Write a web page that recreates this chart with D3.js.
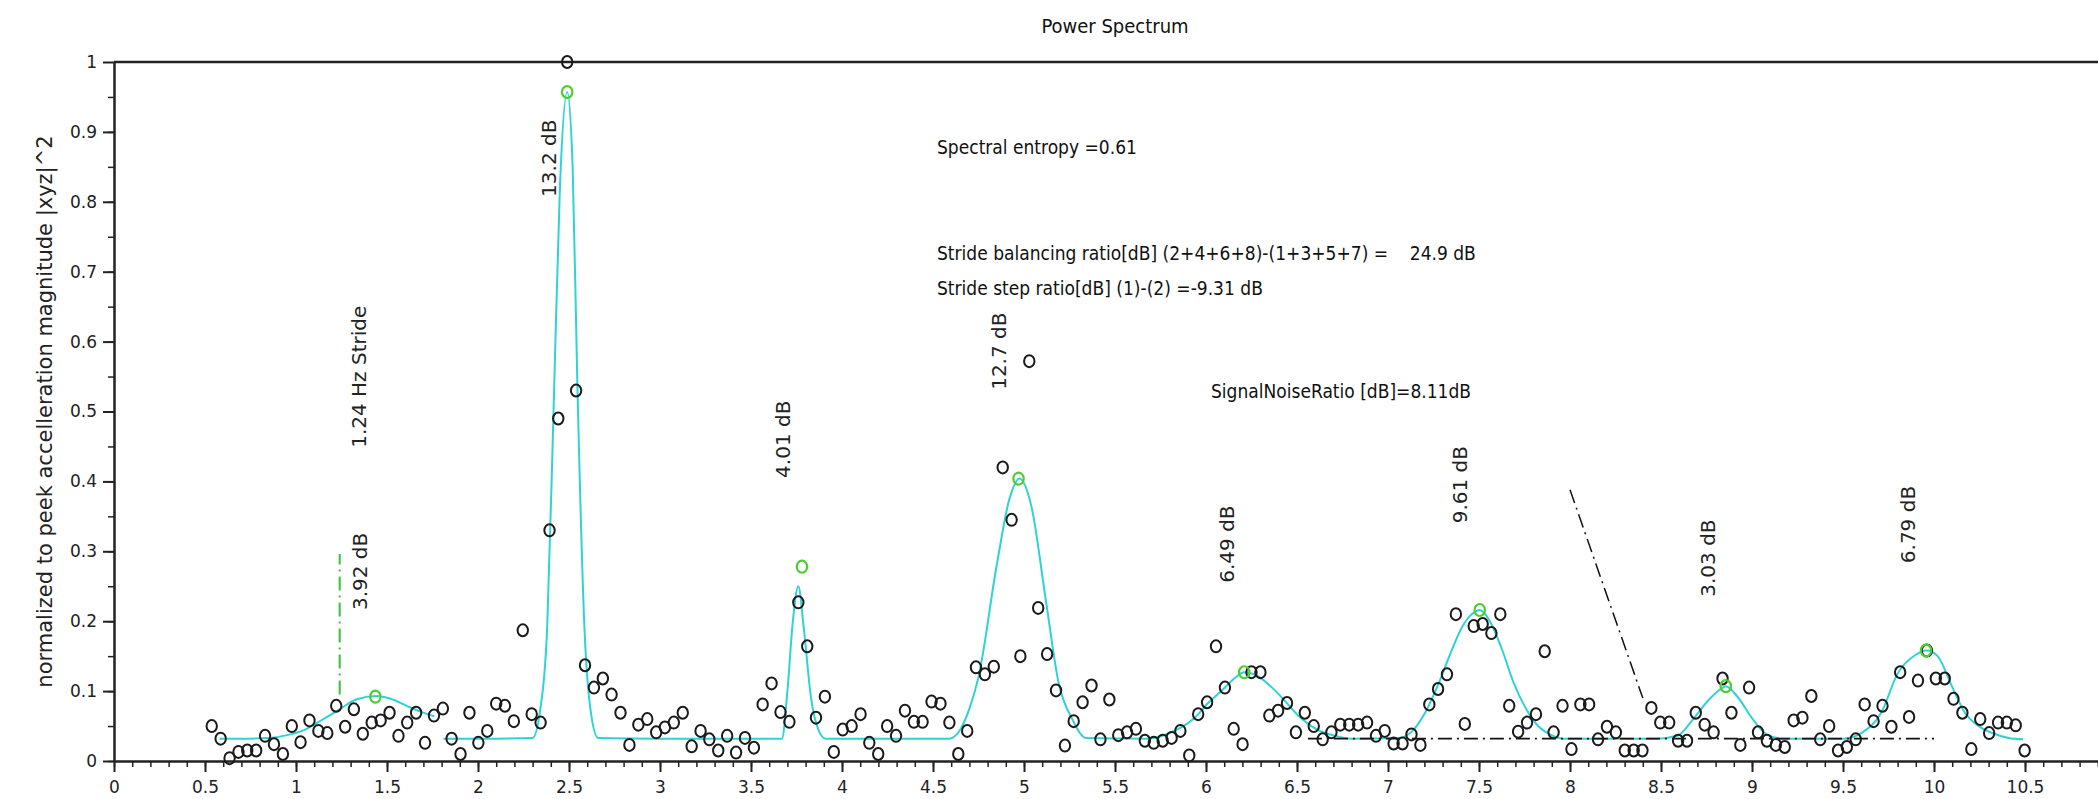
<!DOCTYPE html>
<head>
  <meta charset="utf-8">
  <script src="https://d3js.org/d3.v7.min.js"></script>
  <style>
body { margin: 0; background: #fff; }
svg { display: block; }
.tick text { font-family: "DejaVu Sans", sans-serif; font-size: 17px; fill: #222; }
.note { font-family: "DejaVu Sans Condensed", "DejaVu Sans", sans-serif; font-stretch: condensed; font-size: 19px; fill: #111; white-space: pre; }
.vlabel { font-family: "DejaVu Sans", sans-serif; font-size: 20px; fill: #222; }
  </style>
</head>
<body>
<svg width="2098" height="799"></svg>
<script>
// spectrum bins (Hz) and normalized power
var freqs = [0.537,0.586,0.635,0.684,0.732,0.781,0.830,0.879,0.928,0.977,
  1.025,1.074,1.123,1.172,1.221,1.270,1.318,1.367,1.416,1.465,
  1.514,1.563,1.611,1.660,1.709,1.758,1.807,1.855,1.904,1.953,
  2.002,2.051,2.100,2.148,2.197,2.246,2.295,2.344,2.393,2.441,
  2.490,2.539,2.588,2.637,2.686,2.734,2.783,2.832,2.881,2.930,
  2.979,3.027,3.076,3.125,3.174,3.223,3.271,3.320,3.369,3.418,
  3.467,3.516,3.564,3.613,3.662,3.711,3.760,3.809,3.857,3.906,
  3.955,4.004,4.053,4.102,4.150,4.199,4.248,4.297,4.346,4.395,
  4.443,4.492,4.541,4.590,4.639,4.688,4.736,4.785,4.834,4.883,
  4.932,4.980,5.029,5.078,5.127,5.176,5.225,5.273,5.322,5.371,
  5.420,5.469,5.518,5.566,5.615,5.664,5.713,5.762,5.811,5.859,
  5.908,5.957,6.006,6.055,6.104,6.152,6.201,6.250,6.299,6.348,
  6.396,6.445,6.494,6.543,6.592,6.641,6.689,6.738,6.787,6.836,
  6.885,6.934,6.982,7.031,7.080,7.129,7.178,7.227,7.275,7.324,
  7.373,7.422,7.471,7.520,7.568,7.617,7.666,7.715,7.764,7.813,
  7.861,7.910,7.959,8.008,8.057,8.105,8.154,8.203,8.252,8.301,
  8.350,8.398,8.447,8.496,8.545,8.594,8.643,8.691,8.740,8.789,
  8.838,8.887,8.936,8.984,9.033,9.082,9.131,9.180,9.229,9.277,
  9.326,9.375,9.424,9.473,9.521,9.570,9.619,9.668,9.717,9.766,
  9.814,9.863,9.912,9.961,10.010,10.059,10.107,10.156,10.205,10.254,
  10.303,10.352,10.400,10.449,10.498];
var power = [0.050,0.032,0.004,0.013,0.015,0.015,0.036,0.024,0.010,0.050,
  0.027,0.058,0.043,0.040,0.079,0.049,0.074,0.039,0.055,0.058,
  0.069,0.036,0.055,0.069,0.026,0.065,0.075,0.032,0.010,0.069,
  0.026,0.043,0.082,0.079,0.057,0.187,0.067,0.055,0.330,0.490,
  1.000,0.530,0.137,0.105,0.118,0.095,0.069,0.023,0.052,0.060,
  0.041,0.048,0.055,0.069,0.021,0.043,0.031,0.015,0.036,0.012,
  0.033,0.019,0.081,0.111,0.070,0.056,0.227,0.164,0.062,0.092,
  0.013,0.045,0.050,0.067,0.026,0.010,0.050,0.036,0.072,0.056,
  0.056,0.085,0.082,0.055,0.010,0.043,0.134,0.124,0.135,0.420,
  0.345,0.150,0.572,0.219,0.153,0.101,0.022,0.057,0.084,0.108,
  0.031,0.088,0.037,0.041,0.046,0.029,0.026,0.029,0.033,0.043,
  0.008,0.067,0.084,0.164,0.105,0.046,0.024,0.127,0.127,0.065,
  0.072,0.083,0.041,0.069,0.050,0.031,0.041,0.052,0.052,0.052,
  0.055,0.036,0.043,0.025,0.025,0.038,0.023,0.081,0.103,0.124,
  0.210,0.053,0.193,0.196,0.183,0.210,0.079,0.042,0.055,0.067,
  0.157,0.041,0.079,0.017,0.081,0.081,0.031,0.049,0.041,0.015,
  0.015,0.015,0.076,0.055,0.055,0.029,0.029,0.069,0.052,0.041,
  0.118,0.069,0.023,0.105,0.041,0.029,0.023,0.020,0.058,0.062,
  0.093,0.031,0.050,0.015,0.020,0.031,0.081,0.057,0.079,0.049,
  0.127,0.063,0.115,0.158,0.118,0.118,0.089,0.069,0.017,0.060,
  0.040,0.055,0.055,0.051,0.015];

// fitted curve, two pieces [freq, value]
var fitA = [[0.58,0.032],[0.70,0.032],[0.85,0.033],[0.95,0.037],[1.05,0.045],[1.15,0.060],
  [1.24,0.074],[1.33,0.088],[1.44,0.093],[1.52,0.089],[1.60,0.080],[1.68,0.071],[1.76,0.064]];
var fitB = [[1.81,0.032],[2.00,0.032],[2.30,0.033],[2.34,0.07],[2.38,0.19],[2.415,0.50],[2.45,0.82],
  [2.49,0.957],[2.52,0.85],[2.545,0.55],[2.585,0.19],[2.62,0.07],[2.66,0.033],[3.00,0.032],
  [3.67,0.032],[3.70,0.10],[3.73,0.20],[3.76,0.25],[3.79,0.19],[3.83,0.09],[3.87,0.045],[3.91,0.032],
  [4.30,0.032],[4.59,0.032],[4.65,0.045],[4.70,0.075],[4.75,0.12],[4.85,0.28],[4.92,0.375],[4.975,0.404],
  [5.04,0.365],[5.12,0.23],[5.19,0.112],[5.265,0.060],[5.34,0.033],[5.68,0.032],[5.80,0.040],[5.93,0.060],
  [6.02,0.085],[6.10,0.104],[6.16,0.119],[6.21,0.127],[6.28,0.122],[6.35,0.108],[6.42,0.090],[6.51,0.064],
  [6.61,0.045],[6.71,0.036],[6.80,0.032],[7.06,0.033],[7.13,0.042],[7.21,0.072],[7.28,0.112],[7.345,0.155],
  [7.41,0.193],[7.47,0.212],[7.505,0.216],[7.56,0.200],[7.63,0.157],[7.69,0.112],[7.76,0.074],[7.825,0.050],
  [7.89,0.038],[7.96,0.032],[8.48,0.032],[8.59,0.036],[8.677,0.060],[8.764,0.088],[8.84,0.105],[8.856,0.107],
  [8.917,0.093],[9.004,0.060],[9.08,0.038],[9.16,0.032],[9.50,0.032],[9.60,0.040],[9.71,0.069],[9.80,0.125],
  [9.90,0.152],[9.96,0.158],[10.02,0.150],[10.10,0.106],[10.17,0.069],[10.24,0.051],[10.32,0.040],
  [10.41,0.033],[10.49,0.031]];

// detected harmonic peaks (green)
var peakX = [1.436, 2.49, 3.78, 4.97, 6.21, 7.504, 8.856, 9.956];
var peakY = [0.092, 0.957, 0.278, 0.404, 0.127, 0.216, 0.107, 0.158];

// vertical labels
var labelText = ["1.24 Hz Stride", "3.92 dB", "13.2 dB", "4.01 dB", "12.7 dB", "6.49 dB", "9.61 dB", "3.03 dB", "6.79 dB"];
var labelX = [1.346, 1.352, 2.39, 3.676, 4.863, 6.115, 7.396, 8.758, 9.857];
var labelY = [0.448, 0.216, 0.807, 0.405, 0.531, 0.255, 0.340, 0.235, 0.283];

// helper lines
var strideX = [1.24, 1.24], strideY = [0.095, 0.296];
var noiseX = [6.56, 10.0], noiseY = [0.032, 0.032];
var slopeX = [8.0, 8.40], slopeY = [0.388, 0.09];

var xTicks = [0,0.5,1,1.5,2,2.5,3,3.5,4,4.5,5,5.5,6,6.5,7,7.5,8,8.5,9,9.5,10,10.5];
var yTicks = [0,0.1,0.2,0.3,0.4,0.5,0.6,0.7,0.8,0.9,1];

var notes = [
  {t: "Spectral entropy =0.61", x: 937, y: 154},
  {t: "Stride balancing ratio[dB] (2+4+6+8)-(1+3+5+7) =    24.9 dB", x: 937, y: 260},
  {t: "Stride step ratio[dB] (1)-(2) =-9.31 dB", x: 937, y: 295},
  {t: "SignalNoiseRatio [dB]=8.11dB", x: 1211, y: 398}
];

var svg = d3.select("svg");
var x = d3.scaleLinear().domain([0, 11]).range([114, 2116]);
var y = d3.scaleLinear().domain([0, 1]).range([761, 62]);

// title
svg.append("text")
    .attr("class", "note")
    .attr("x", 1115).attr("y", 33)
    .attr("text-anchor", "middle")
    .style("font-size", "20px")
    .text("Power Spectrum");

// top border
svg.append("line")
    .attr("x1", x(0)).attr("x2", 2098)
    .attr("y1", y(1)).attr("y2", y(1))
    .attr("stroke", "#222").attr("stroke-width", 2.5);

// x axis: minor then major
svg.append("g")
    .attr("transform", "translate(0," + y(0) + ")")
    .call(d3.axisBottom(x).tickValues(d3.range(0, 110).map(function(i) { return i / 10; }))
      .tickSize(6).tickSizeOuter(0).tickFormat(""))
    .call(function(g) { g.select(".domain").remove(); })
    .selectAll("line").attr("stroke", "#222").attr("stroke-width", 1.5);

var xa = svg.append("g")
    .attr("transform", "translate(0," + y(0) + ")")
    .call(d3.axisBottom(x).tickValues(xTicks).tickSize(11).tickSizeOuter(0).tickPadding(9)
      .tickFormat(function(d) { return String(d); }));
xa.select(".domain").attr("stroke", "#222").attr("stroke-width", 2.5);
xa.selectAll("line").attr("stroke", "#222").attr("stroke-width", 2);

// y axis
svg.append("g")
    .attr("transform", "translate(" + x(0) + ",0)")
    .call(d3.axisLeft(y).tickValues(d3.range(0, 20).map(function(i) { return i / 20; }))
      .tickSize(6).tickSizeOuter(0).tickFormat(""))
    .call(function(g) { g.select(".domain").remove(); })
    .selectAll("line").attr("stroke", "#222").attr("stroke-width", 1.5);

var ya = svg.append("g")
    .attr("transform", "translate(" + x(0) + ",0)")
    .call(d3.axisLeft(y).tickValues(yTicks).tickSize(11).tickSizeOuter(0).tickPadding(6)
      .tickFormat(function(d) { return String(d); }));
ya.select(".domain").attr("stroke", "#222").attr("stroke-width", 2.5);
ya.selectAll("line").attr("stroke", "#222").attr("stroke-width", 2);

// y axis title
svg.append("text")
    .attr("class", "vlabel")
    .attr("transform", "translate(52," + ((y(0) + y(1)) / 2) + ") rotate(-90)")
    .attr("text-anchor", "middle")
    .style("font-size", "21px")
    .text("normalized to peek accelleration magnitude |xyz|^2");

// fitted curve
var line = d3.line()
    .x(function(d) { return x(d[0]); })
    .y(function(d) { return y(d[1]); })
    .curve(d3.curveMonotoneX);
[fitA, fitB].forEach(function(seg) {
  svg.append("path")
      .datum(seg)
      .attr("fill", "none")
      .attr("stroke", "#2fd3d3")
      .attr("stroke-width", 2)
      .attr("d", line);
});

// helper dash-dot lines
function dashLine(xs, ys, color, w) {
  svg.append("line")
      .attr("x1", x(xs[0])).attr("x2", x(xs[1]))
      .attr("y1", y(ys[0])).attr("y2", y(ys[1]))
      .attr("stroke", color).attr("stroke-width", w)
      .attr("stroke-dasharray", "14,5,2,5");
}
dashLine(strideX, strideY, "#3cbf3c", 2);
dashLine(noiseX, noiseY, "#111", 1.8);
dashLine(slopeX, slopeY, "#111", 1.5);

// spectrum points
svg.append("g").selectAll("ellipse")
    .data(freqs)
    .enter().append("ellipse")
    .attr("cx", function(d) { return x(d); })
    .attr("cy", function(d, i) { return y(power[i]); })
    .attr("rx", 5.2).attr("ry", 6)
    .attr("fill", "none")
    .attr("stroke", "#1a1a1a")
    .attr("stroke-width", 2);

// peaks
svg.append("g").selectAll("ellipse")
    .data(peakX)
    .enter().append("ellipse")
    .attr("cx", function(d) { return x(d); })
    .attr("cy", function(d, i) { return y(peakY[i]); })
    .attr("rx", 5.2).attr("ry", 6)
    .attr("fill", "none")
    .attr("stroke", "#4ccf2e")
    .attr("stroke-width", 2.2);

// rotated labels
svg.append("g").selectAll("text")
    .data(labelText)
    .enter().append("text")
    .attr("class", "vlabel")
    .attr("transform", function(d, i) {
      return "translate(" + (x(labelX[i]) + 7) + "," + y(labelY[i]) + ") rotate(-90)";
    })
    .text(function(d) { return d; });

// annotations
svg.append("g").selectAll("text")
    .data(notes)
    .enter().append("text")
    .attr("class", "note")
    .attr("x", function(d) { return d.x; })
    .attr("y", function(d) { return d.y; })
    .text(function(d) { return d.t; });
</script>
</body>
